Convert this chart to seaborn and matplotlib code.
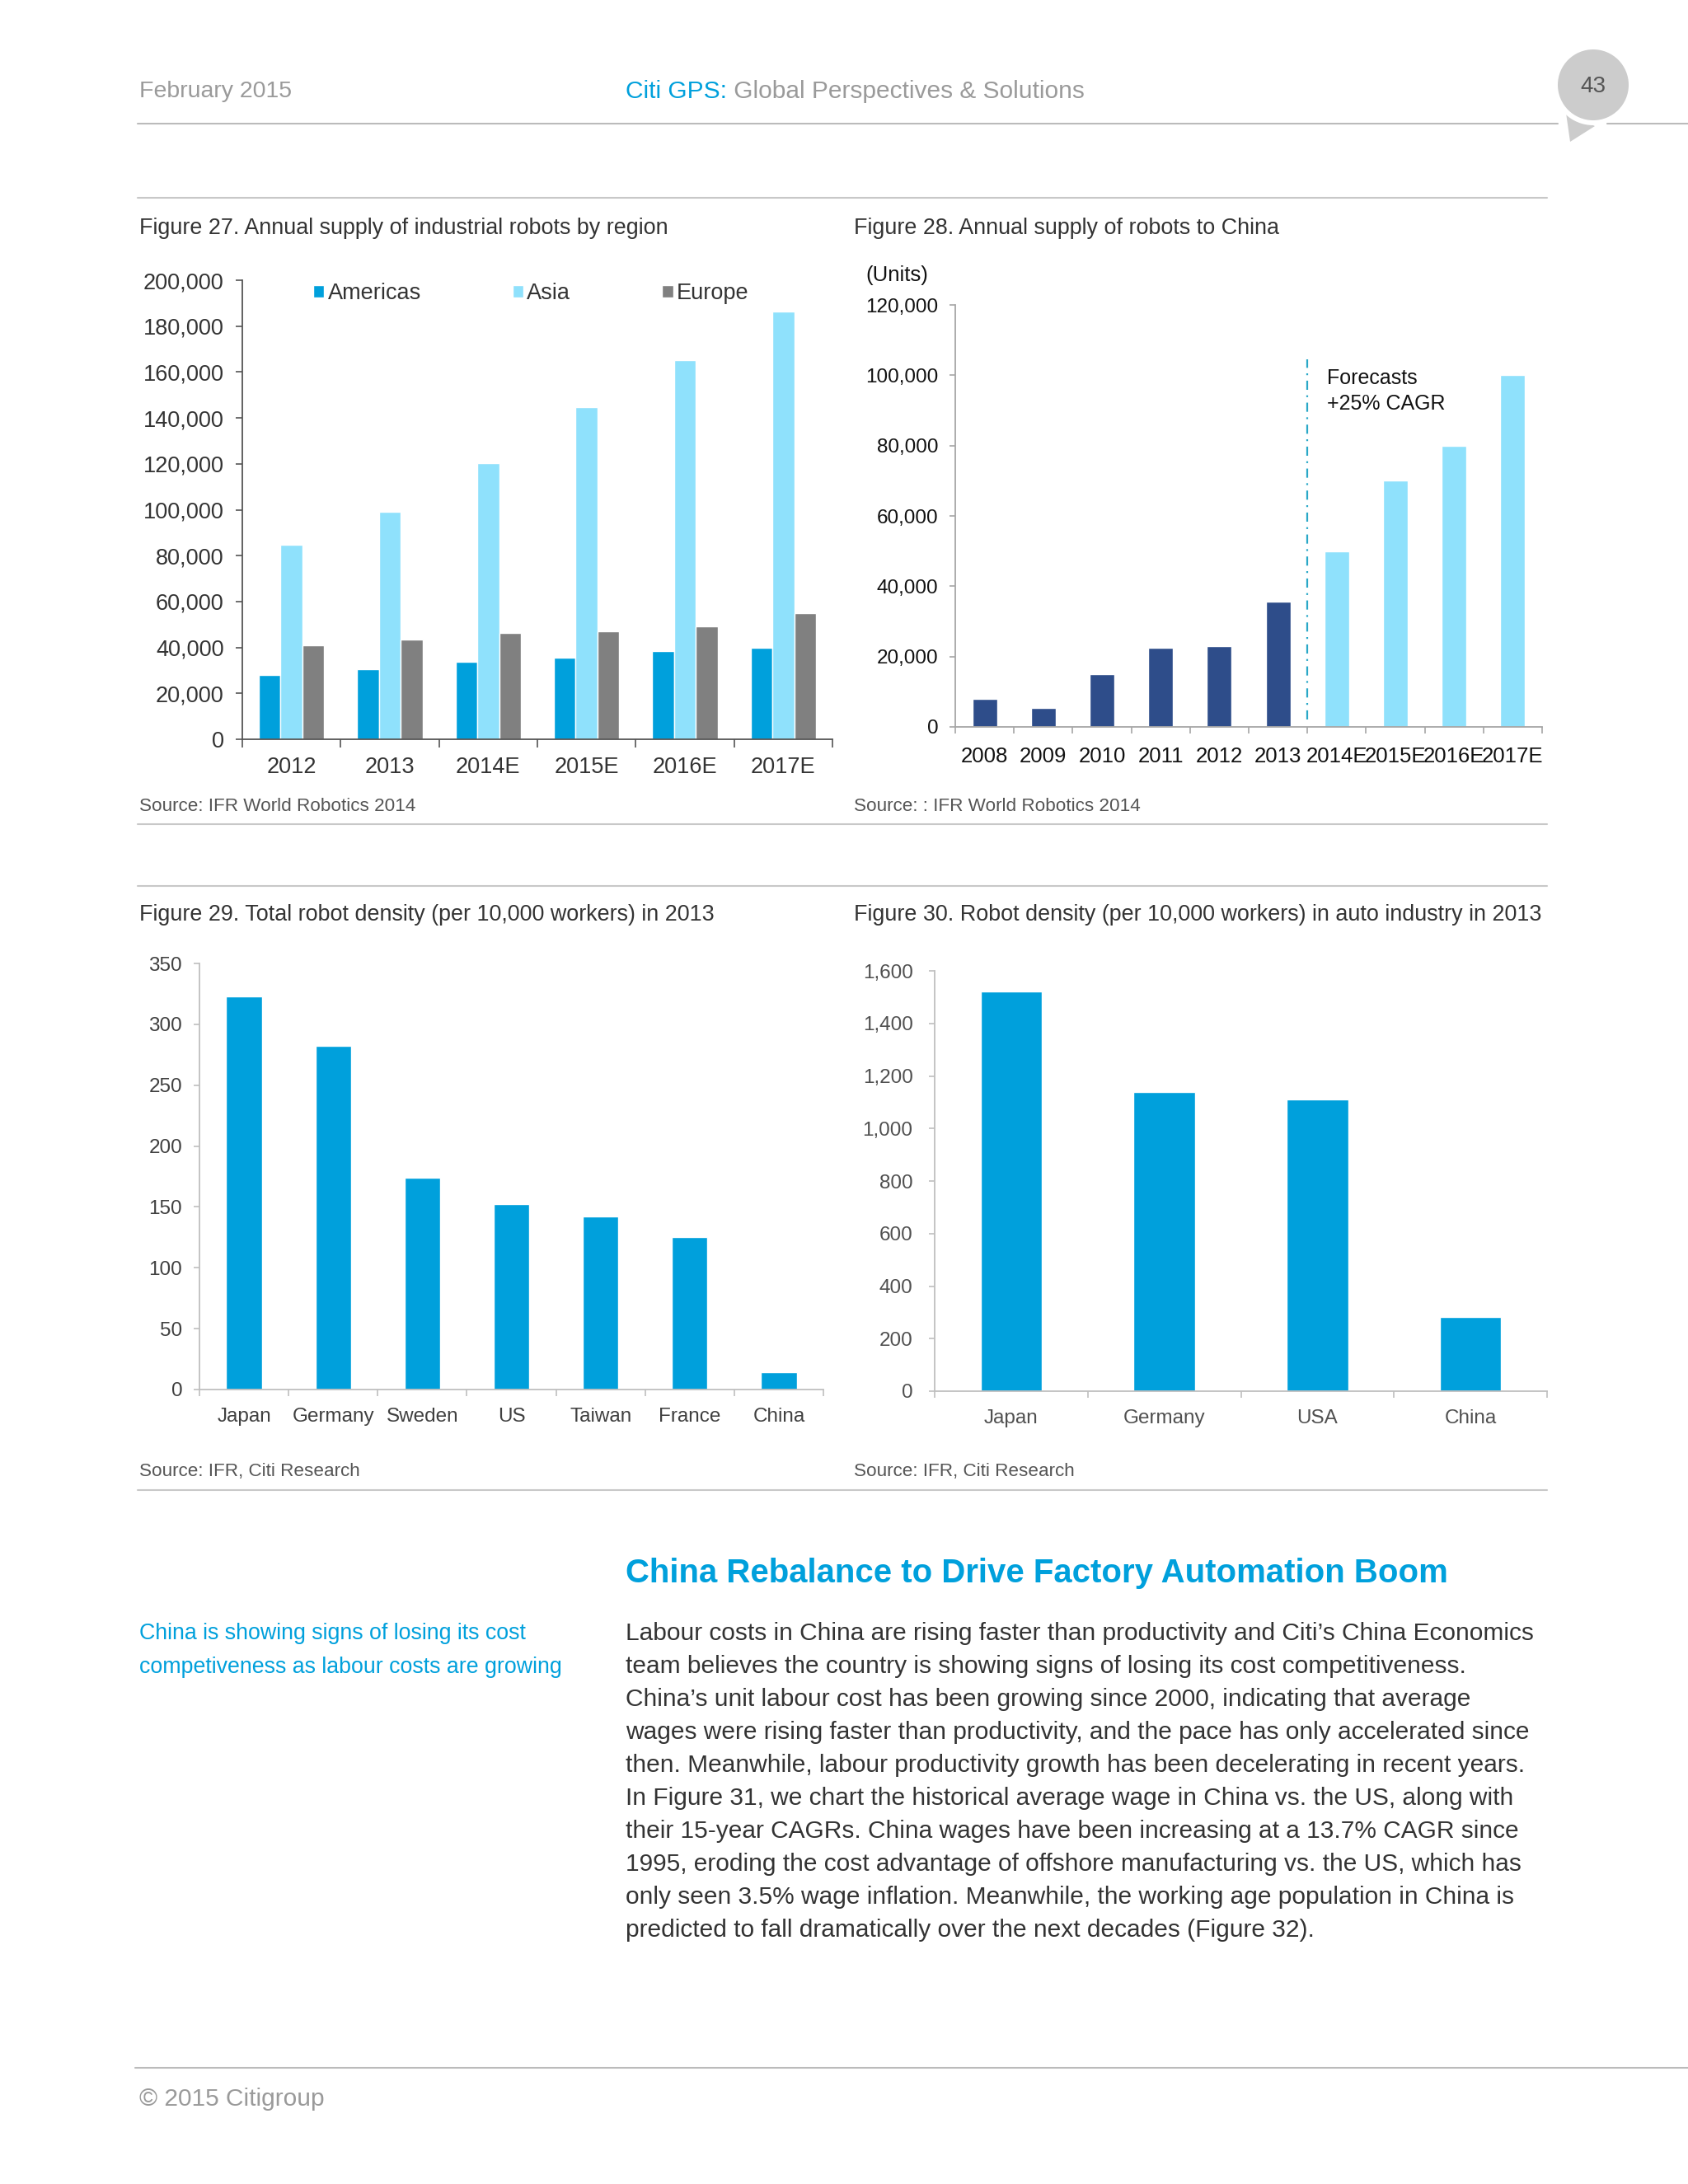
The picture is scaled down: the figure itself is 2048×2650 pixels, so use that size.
import numpy as np
import pandas as pd
import matplotlib
matplotlib.use('Agg')
import matplotlib.pyplot as plt
import seaborn as sns
from matplotlib import font_manager
from matplotlib.patches import Circle, Polygon
from matplotlib.ticker import MultipleLocator, FuncFormatter

sns.set_style('white')

available = {f.name for f in font_manager.fontManager.ttflist}
SANS = 'Liberation Sans' if 'Liberation Sans' in available else 'DejaVu Sans'
NARROW = 'Liberation Sans Narrow' if 'Liberation Sans Narrow' in available else SANS
plt.rcParams['font.family'] = [SANS, 'DejaVu Sans']

# ---- data ----
years27 = ['2012', '2013', '2014E', '2015E', '2016E', '2017E']
americas = [28100, 30400, 33600, 35400, 38500, 39900]
asia = [84800, 99100, 120200, 144700, 165300, 186200]
europe = [41100, 43300, 46200, 47000, 49200, 55100]
regions = ['Americas', 'Asia', 'Europe']

years28 = ['2008', '2009', '2010', '2011', '2012', '2013', '2014E', '2015E', '2016E', '2017E']
china_units = [7900, 5500, 14900, 22500, 23000, 35700, 50000, 70000, 80000, 100000]
china_kind = ['actual'] * 6 + ['forecast'] * 4

countries29 = ['Japan', 'Germany', 'Sweden', 'US', 'Taiwan', 'France', 'China']
density29 = [323, 282, 174, 152, 142, 125, 14]

countries30 = ['Japan', 'Germany', 'USA', 'China']
density30 = [1521, 1140, 1112, 282]

titles = ['Figure 27. Annual supply of industrial robots by region',
          'Figure 28. Annual supply of robots to China',
          'Figure 29. Total robot density (per 10,000 workers) in 2013',
          'Figure 30. Robot density (per 10,000 workers) in auto industry in 2013']
sources = ['Source: IFR World Robotics 2014',
           'Source: : IFR World Robotics 2014',
           'Source: IFR, Citi Research',
           'Source: IFR, Citi Research']

headline = 'China Rebalance to Drive Factory Automation Boom'
side_note = ['China is showing signs of losing its cost',
             'competiveness as labour costs are growing']
body = ["Labour costs in China are rising faster than productivity and Citi\u2019s China Economics",
        "team believes the country is showing signs of losing its cost competitiveness.",
        "China\u2019s unit labour cost has been growing since 2000, indicating that average",
        "wages were rising faster than productivity, and the pace has only accelerated since",
        "then. Meanwhile, labour productivity growth has been decelerating in recent years.",
        "In Figure 31, we chart the historical average wage in China vs. the US, along with",
        "their 15-year CAGRs. China wages have been increasing at a 13.7% CAGR since",
        "1995, eroding the cost advantage of offshore manufacturing vs. the US, which has",
        "only seen 3.5% wage inflation. Meanwhile, the working age population in China is",
        "predicted to fall dramatically over the next decades (Figure 32)."]

# ---- colours ----
CITI_BLUE = '#00a0dc'
LIGHT_BLUE = '#8fe1fc'
GREY_BAR = '#808080'
NAVY = '#2e4d8a'
RULE = '#c8c8c8'
TXT = '#404040'

W, H = 2048, 2650
fig = plt.figure(figsize=(W / 100, H / 100), dpi=100)
fig.patch.set_facecolor('white')

# page axes in pixel coordinates for rules and text
page = fig.add_axes([0, 0, 1, 1])
page.set_xlim(0, W)
page.set_ylim(H, 0)
page.axis('off')


def rect(x0, y0, x1, y1):
    return [x0 / W, 1 - y1 / H, (x1 - x0) / W, (y1 - y0) / H]


def style_axes(ax, axis_color, label_color, size, ylen=5, ypad=10, xpad=14, xsize=None):
    sns.despine(ax=ax)
    for s in ['left', 'bottom']:
        ax.spines[s].set_color(axis_color)
        ax.spines[s].set_linewidth(1.3)
    ax.set_xlabel('')
    ax.set_ylabel('')
    ax.tick_params(axis='y', which='major', length=ylen, width=1.2, color=axis_color,
                   labelsize=size, labelcolor=label_color, pad=ypad, left=True)
    ax.tick_params(axis='x', which='major', length=0, labelsize=xsize or size,
                   labelcolor=label_color, pad=xpad, bottom=True)
    ax.tick_params(axis='x', which='minor', length=ylen + 1, width=1.2,
                   color=axis_color, bottom=True)
    n = len(ax.get_xticks())
    ax.set_xlim(-0.5, n - 0.5)
    ax.set_xticks(np.arange(-0.5, n, 1), minor=True)
    ax.set_facecolor('none')


comma = FuncFormatter(lambda v, p: f'{v:,.0f}')

# ---- Figure 27 ----
ax27 = fig.add_axes(rect(294, 340, 1010, 897))
df27 = pd.DataFrame({'year': years27 * 3,
                     'region': [r for r in regions for _ in years27],
                     'value': americas + asia + europe})
sns.barplot(data=df27, x='year', y='value', hue='region', hue_order=regions,
            palette=[CITI_BLUE, LIGHT_BLUE, GREY_BAR], width=0.667, saturation=1,
            errorbar=None, ax=ax27)
ax27.set_ylim(0, 200000)
ax27.yaxis.set_major_locator(MultipleLocator(20000))
ax27.yaxis.set_major_formatter(comma)
style_axes(ax27, '#555555', '#333333', 19.5, ylen=6, ypad=10, xpad=15)
h, l = ax27.get_legend_handles_labels()
ax27.legend(h, l, loc='center left', bbox_to_anchor=(0.12, 0.971), ncol=3,
            frameon=False, fontsize=19.5, handlelength=0.5, handleheight=0.5,
            handletextpad=0.15, columnspacing=4.1, borderpad=0, borderaxespad=0,
            labelcolor='#333333')

# ---- Figure 28 ----
ax28 = fig.add_axes(rect(1159, 370, 1871, 882))
df28 = pd.DataFrame({'year': years28, 'units': china_units, 'kind': china_kind})
sns.barplot(data=df28, x='year', y='units', hue='kind', dodge=False,
            palette={'actual': NAVY, 'forecast': LIGHT_BLUE}, width=0.42,
            saturation=1, errorbar=None, legend=False, ax=ax28)
ax28.set_ylim(0, 120000)
ax28.yaxis.set_major_locator(MultipleLocator(20000))
ax28.yaxis.set_major_formatter(comma)
style_axes(ax28, '#a6a6a6', '#111111', 17.5, ylen=5, ypad=10, xpad=17, xsize=18.5)
ax28.plot([5.5, 5.5], [2000, 104500], color='#2aa8c8', lw=1.6,
          linestyle=(0, (5, 3, 1, 3)))
ax28.text(5.83, 102000, 'Forecasts\n+25% CAGR', ha='left', va='top',
          fontsize=18, color='#111111', linespacing=1.4)
page.text(1088, 334, '(Units)', ha='center', va='center', fontsize=18.5, color='#111111')

# ---- Figure 29 ----
ax29 = fig.add_axes(rect(242, 1169, 999, 1686))
sns.barplot(x=countries29, y=density29, color=CITI_BLUE, width=0.4,
            saturation=1, ax=ax29)
ax29.set_ylim(0, 350)
ax29.yaxis.set_major_locator(MultipleLocator(50))
style_axes(ax29, '#bfbfbf', TXT, 17.5, ylen=5, ypad=10, xpad=16)

# ---- Figure 30 ----
ax30 = fig.add_axes(rect(1134, 1178, 1877, 1688))
sns.barplot(x=countries30, y=density30, color=CITI_BLUE, width=0.4,
            saturation=1, ax=ax30)
ax30.set_ylim(0, 1600)
ax30.yaxis.set_major_locator(MultipleLocator(200))
ax30.yaxis.set_major_formatter(comma)
style_axes(ax30, '#bfbfbf', '#505050', 17.5, ylen=5, ypad=14, xpad=16)

# ---- titles, sources, rules ----
for (x, y), t in zip([(169, 277), (1036, 277), (169, 1110), (1036, 1110)], titles):
    page.text(x, y, t, ha='left', va='center', fontsize=19.4, color='#333333',
              family=[NARROW, 'DejaVu Sans'])
for (x, y), t in zip([(169, 978), (1036, 978), (169, 1786), (1036, 1786)], sources):
    page.text(x, y, t, ha='left', va='center', fontsize=16.2, color='#555555',
              family=[NARROW, 'DejaVu Sans'])
for y in [240, 1000, 1075, 1808]:
    page.plot([167, 1877], [y, y], color=RULE, lw=1.5)

# ---- header ----
page.plot([167, 1890], [150, 150], color='#bbbbbb', lw=1.5)
page.plot([1950, 2048], [150, 150], color='#bbbbbb', lw=1.5)
page.add_patch(Polygon([(1900, 137), (1935, 153), (1905, 172)], closed=True,
                       color='#cccccc', lw=0))
page.add_patch(Circle((1933, 103), 49, color='white', lw=0))
page.add_patch(Circle((1933, 103), 43, color='#cccccc', lw=0))
page.text(1933, 105, '43', ha='center', va='center', fontsize=20, color='#555555')
page.text(169, 111, 'February 2015', ha='left', va='center', fontsize=20.5, color='#9a9a9a')
t = page.text(759, 111, 'Citi GPS:', ha='left', va='center', fontsize=21.5, color=CITI_BLUE)
page.annotate(' Global Perspectives & Solutions', xy=(1, 0.5), xycoords=t,
              ha='left', va='center', fontsize=21.5, color='#9a9a9a')

# ---- article ----
page.text(759, 1909, headline, ha='left', va='center', fontsize=28.9,
          fontweight='bold', color=CITI_BLUE)
for i, line in enumerate(side_note):
    page.text(169, 1982 + i * 41, line, ha='left', va='center', fontsize=19.3, color=CITI_BLUE)
for i, line in enumerate(body):
    page.text(759, 1982 + i * 40, line, ha='left', va='center', fontsize=21.5, color='#333333')

# ---- footer ----
page.plot([164, 2048], [2509, 2509], color='#bbbbbb', lw=1.5)
page.text(169, 2547, '\u00a9 2015 Citigroup', ha='left', va='center', fontsize=21.5, color='#9a9a9a')

fig.savefig('out.png', dpi=100, facecolor='white')
